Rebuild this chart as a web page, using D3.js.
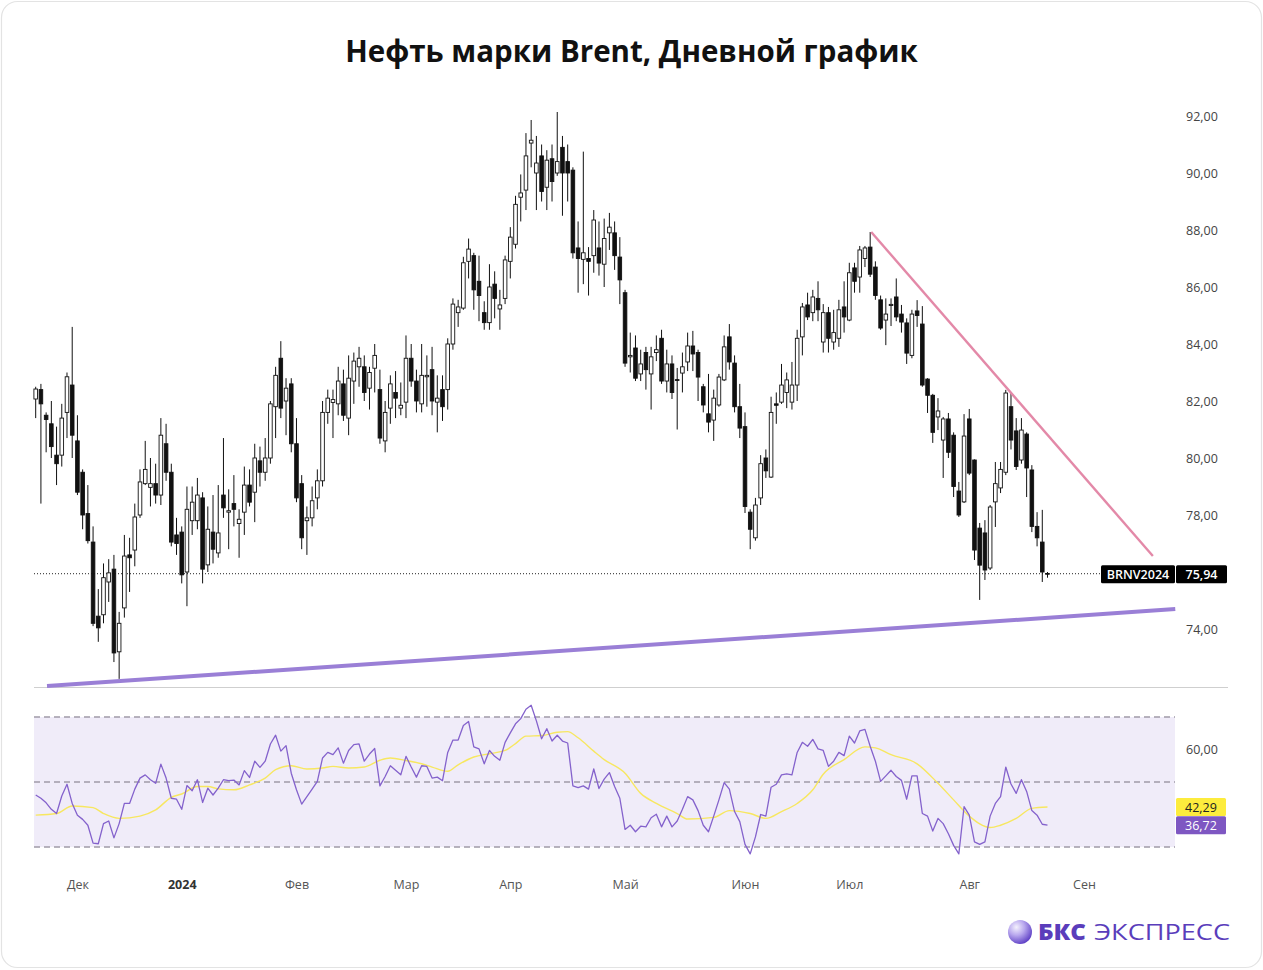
<!DOCTYPE html>
<html><head><meta charset="utf-8">
<script src="https://cdn.jsdelivr.net/npm/d3@7"></script>
<style>
html,body{margin:0;padding:0;background:#fff;}
svg{display:block;font-family:"Open Sans","Noto Sans",sans-serif;}
</style>
</head><body>
<svg id="chart" width="1263" height="970"></svg>
<script>
// ---------- DATA ----------
const ticker = "BRNV2024";
const lastPrice = 75.94;
const rsiLast = 36.72;
const maLast = 42.29;

const open = [82.07,82.4,81.5,81.2,80.1,80.1,81.6,82.56,80.6,79.5,
78.05,77.05,74.45,74.5,75.65,76.1,73.2,74.74,76.6,76.77,
78.0,79.1,78.97,79.1,78.7,80.5,79.5,77.3,77.4,76.0,
77.8,77.8,78.6,76.25,77.4,76.67,78.7,78.1,78.4,77.7,
78.1,79.05,78.8,79.9,79.5,80.0,81.8,83.5,82.0,82.6,
80.5,79.1,77.8,77.9,78.6,79.2,81.6,81.95,81.9,82.6,
81.4,82.7,83.2,83.2,82.45,83.15,82.4,80.6,81.75,82.3,
81.75,81.96,83.5,82.7,81.9,82.85,83.1,81.96,82.4,82.4,
84.0,85.1,85.26,86.9,87.1,86.2,85.1,84.75,86.1,85.23,
85.6,86.9,87.5,89.15,89.4,91.05,90.0,90.6,89.5,90.5,
90.0,90.9,90.4,90.1,87.37,86.97,87.0,87.1,87.37,86.8,
87.9,87.9,87.05,85.8,83.55,83.86,82.95,83.7,82.95,83.7,
84.2,82.7,83.3,82.75,82.98,83.37,83.93,83.7,82.5,81.55,
81.33,81.86,82.74,84.25,83.33,81.8,81.1,78.1,77.2,78.6,
80.0,79.33,81.9,81.96,82.3,81.96,82.56,84.25,85.37,85.1,
85.6,84.07,85.1,84.07,84.2,85.3,84.84,86.67,86.35,87.0,
87.4,86.7,85.55,84.84,85.35,85.65,85.05,84.74,83.6,85.16,
84.7,82.77,82.2,81.44,80.63,81.37,80.8,78.84,78.46,81.37,
79.93,77.54,77.37,76.14,78.46,78.95,79.5,81.8,80.95,79.93,
80.84,79.58,77.6,77.05,75.95];

const high = [82.5,82.6,81.6,82.0,81.1,81.9,83.0,84.6,81.5,79.6,
79.05,77.6,75.4,76.3,76.45,76.6,74.6,77.3,77.2,78.4,
79.6,80.6,80.0,79.8,81.4,81.2,79.8,77.9,77.6,79.0,
79.0,79.3,78.8,78.3,78.7,79.05,80.7,78.9,79.4,78.2,
79.7,79.6,80.5,80.4,80.7,82.0,83.2,84.1,82.8,82.8,
81.4,79.4,78.3,79.0,79.6,82.0,82.4,82.4,83.2,83.1,
83.6,83.7,83.9,83.6,83.2,84.0,83.1,82.0,82.9,83.05,
82.65,84.3,84.0,83.1,84.0,83.6,83.9,82.9,82.9,84.2,
85.6,85.55,87.06,87.7,87.2,87.1,85.5,86.8,86.55,85.9,
87.1,88.1,89.2,89.95,91.4,91.86,91.3,91.0,90.8,91.0,
92.14,91.3,91.0,90.2,88.3,90.75,87.4,88.7,88.3,88.4,
88.6,88.3,87.75,85.9,84.4,84.3,83.8,83.9,83.9,84.3,
84.5,83.8,83.6,83.16,83.7,84.4,84.46,83.8,82.6,82.95,
82.4,82.95,84.3,84.7,83.6,82.6,81.6,78.2,78.6,80.1,
80.3,82.15,82.3,83.3,83.0,83.37,84.5,85.44,85.8,85.9,
86.2,85.4,85.3,85.2,85.55,86.2,86.85,86.85,87.44,87.44,
87.93,86.9,85.7,85.6,85.6,86.3,85.37,84.9,85.2,85.54,
85.33,82.8,82.25,82.1,81.44,81.58,80.9,79.16,81.54,81.72,
79.95,77.72,77.82,78.35,79.86,79.86,82.39,82.28,81.4,81.4,
80.9,79.75,78.1,78.18,76.0];

const low = [81.4,78.4,80.2,80.0,79.05,79.7,80.7,80.0,78.7,77.5,
77.0,74.1,73.55,74.2,74.95,72.84,72.25,74.4,75.3,76.2,
77.9,79.05,78.3,78.4,78.35,79.2,76.9,76.6,75.6,74.8,
77.3,77.5,75.6,76.0,76.3,76.5,77.9,76.8,77.6,76.5,
77.3,78.3,77.75,79.0,79.2,79.8,80.7,81.4,80.8,80.2,
78.45,76.8,76.6,77.6,78.2,79.0,81.2,80.7,81.5,81.3,
80.8,81.9,82.5,82.0,81.7,82.3,80.5,80.2,81.2,81.4,
81.5,81.4,82.5,81.6,81.6,81.8,81.5,80.9,81.3,81.7,
83.8,84.6,85.2,86.3,85.2,84.8,84.5,84.5,84.9,84.5,
85.4,86.3,87.35,88.3,88.7,90.2,88.7,89.0,88.7,89.0,
89.9,88.5,89.0,87.0,85.8,86.1,85.7,86.5,86.4,86.0,
87.3,86.6,85.4,83.2,83.0,82.7,82.7,82.4,81.7,83.4,
82.6,82.3,82.07,81.0,82.3,83.05,83.05,82.0,81.6,80.9,
80.6,81.8,82.7,83.1,81.6,80.7,78.07,76.8,77.1,78.35,
79.3,79.3,81.2,81.9,81.75,81.7,82.0,83.6,84.84,84.8,
84.8,83.7,83.7,83.8,83.9,84.4,84.8,85.8,85.8,86.7,
86.35,85.55,84.5,83.96,84.63,84.8,84.4,83.3,83.5,84.6,
82.5,81.58,80.53,80.98,79.3,80.0,78.63,77.93,78.42,79.4,
76.42,75.02,75.72,76.07,77.58,78.77,79.4,80.3,79.58,79.8,
78.63,77.4,76.9,75.65,75.8];

const close = [82.42,81.9,81.35,80.4,79.8,81.4,82.85,80.8,78.8,78.0,
77.1,74.2,74.04,75.8,75.97,73.16,74.2,76.56,76.5,77.93,
79.16,79.6,79.1,78.7,80.8,79.5,77.05,77.0,75.9,78.2,
78.45,78.7,76.1,77.5,76.8,77.37,78.25,78.15,78.2,77.85,
79.05,78.45,80.0,79.5,80.0,81.9,82.9,81.75,82.45,80.5,
78.6,77.2,77.9,78.5,79.2,81.6,82.1,82.05,82.7,81.5,
82.8,83.4,83.5,82.3,83.0,83.6,80.7,81.6,82.6,82.1,
81.85,83.5,82.7,82.0,82.9,82.9,82.0,82.1,81.8,84.0,
85.4,85.3,86.85,87.33,85.9,85.7,84.75,86.0,85.6,85.37,
86.95,87.75,88.9,89.3,90.6,91.15,90.35,89.35,90.45,89.7,
90.4,90.0,90.0,87.2,87.0,87.2,86.9,88.35,86.84,87.7,
88.1,87.1,86.25,83.33,83.6,82.8,83.3,83.1,83.55,83.8,
82.7,83.3,82.3,82.74,83.2,83.93,83.65,82.84,81.86,81.26,
82.1,82.84,83.9,83.37,81.8,81.05,78.3,77.5,78.35,79.8,
79.55,81.6,81.85,82.56,82.74,82.56,84.2,85.3,84.95,85.65,
85.2,85.1,84.2,84.4,85.2,84.95,86.5,86.2,87.3,87.37,
86.45,85.7,84.56,85.05,85.39,84.95,84.77,83.68,85.05,85.0,
82.56,82.2,80.9,81.65,81.37,80.2,79.0,78.0,80.77,79.47,
76.77,76.24,76.07,78.28,79.1,79.6,82.28,80.63,79.7,80.98,
79.65,77.6,77.2,76.0,75.94];

const rsi = [46.0,45.0,43.6,41.6,40.3,45.7,49.3,43.4,39.8,38.5,
36.7,31.2,31.0,37.2,38.0,32.8,37.2,43.4,43.4,47.8,
51.2,52.2,50.7,49.6,55.5,51.2,45.0,44.7,41.6,48.9,
47.3,50.7,43.7,48.1,46.0,48.1,50.7,50.4,50.6,49.1,
53.5,51.4,56.4,54.5,56.4,61.7,64.4,59.5,61.2,52.7,
47.6,43.2,45.5,47.8,50.2,57.4,59.1,58.4,60.5,55.8,
59.7,61.5,61.7,56.4,58.6,60.3,48.8,51.7,55.0,53.6,
52.2,57.9,54.6,51.5,55.0,54.8,51.2,51.5,50.4,59.1,
62.9,62.9,67.4,68.6,60.8,60.2,55.6,59.7,57.9,56.7,
62.2,65.1,67.9,69.5,72.4,73.6,68.8,63.3,66.4,62.6,
64.4,62.6,62.0,48.8,48.3,48.8,47.8,54.0,48.0,50.9,
52.9,48.6,45.0,35.4,36.7,34.7,36.4,36.2,39.0,40.1,
36.2,39.5,36.2,38.0,41.6,45.5,44.5,41.2,36.7,34.7,
39.5,44.5,49.8,47.8,40.9,37.8,30.8,27.9,33.1,40.0,
39.5,48.4,49.3,52.2,52.5,52.2,59.1,62.2,61.0,63.1,
60.2,59.7,54.8,56.4,59.1,58.1,64.1,62.0,65.7,66.2,
61.0,56.4,50.2,51.9,53.6,51.7,50.5,44.7,51.9,51.9,
40.3,39.5,34.9,38.8,37.2,34.1,30.5,27.9,42.4,39.8,
31.6,30.8,31.6,39.5,43.4,45.5,54.6,49.4,46.5,50.7,
47.1,41.2,39.8,37.0,36.72];

// RSI moving average, read at these candle positions
const maIndex = [0,4,7,11,13,16,20,23,26,28,31,33,35,38,41,44,46,49,52,55,
57,60,63,66,68,71,74,76,79,81,84,87,90,92,94,97,100,102,104,107,
109,113,116,119,123,125,130,133,137,140,143,146,149,151,155,159,161,164,169,173,
176,179,183,185,188,191,194];
const maValue = [39.8,40.3,42.6,42.1,40.3,38.8,39.5,41.4,45.3,46.3,48.6,48.6,47.9,47.6,49.1,51.2,53.8,55.0,54.0,54.3,
54.8,54.3,54.6,56.7,57.4,56.6,55.6,54.6,53.3,55.3,57.7,58.7,59.7,61.8,64.1,64.3,65.3,65.5,63.6,59.5,
56.9,52.7,46.5,43.4,40.3,38.6,39.1,41.2,40.3,38.8,40.9,43.4,47.6,52.4,56.9,60.8,60.5,58.4,55.6,49.6,
44.5,39.5,36.0,36.7,38.8,41.9,42.29];

// Axis ticks
const priceTicks = [74,76,78,80,82,84,86,88,90,92];
const rsiTicks = [60];
const rsiLevels = [70,50,30];
const monthIndex = [8,28,50,71,91,113,136,156,179,201];
const monthLabels = ["Дек","2024","Фев","Мар","Апр","Май","Июн","Июл","Авг","Сен"];

// Trend lines: [candle position, price]
const resistanceLine = [[160.2,87.93],[214.2,76.56]];
const supportLine = [[2.17,72.0],[218.5,74.70]];

// ---------- DRAWING ----------
const svg = d3.select("#chart");
const fmt = d => d.toFixed(2).replace(".", ",");

// card
svg.append("rect").attr("x",1.5).attr("y",1.5).attr("width",1260).attr("height",966)
  .attr("rx",16).attr("fill","#fff").attr("stroke","#e3e3e3").attr("stroke-width",1.2);

// title
svg.append("text").attr("x",631.5).attr("y",62).attr("text-anchor","middle")
  .attr("font-size",29.5).attr("font-weight",700).attr("fill","#111")
  .text("Нефть марки Brent, Дневной график");

const n = close.length;
const x = d3.scaleLinear().domain([0, n-1]).range([35.7, 1047.5]);
const y = d3.scaleLinear().domain([74, 92]).range([629, 116]);
const yr = d3.scaleLinear().domain([30, 70]).range([847, 717]);

// price pane bottom separator
svg.append("line").attr("x1",34).attr("x2",1228).attr("y1",687.5).attr("y2",687.5)
  .attr("stroke","#cfcfcf").attr("stroke-width",1);

// last price dotted line
svg.append("line").attr("x1",34).attr("x2",1101).attr("y1",y(lastPrice)).attr("y2",y(lastPrice))
  .attr("stroke","#222").attr("stroke-width",1).attr("stroke-dasharray","1,2");

// support trend line
svg.append("line")
  .attr("x1",x(supportLine[0][0])).attr("y1",y(supportLine[0][1]))
  .attr("x2",x(supportLine[1][0])).attr("y2",y(supportLine[1][1]))
  .attr("stroke","#9a7fd6").attr("stroke-width",4).attr("stroke-linecap","butt");

// candles
const idx = d3.range(n);
const bw = 3.6;
const cg = svg.append("g");
cg.selectAll("line.w").data(idx).join("line").attr("class","w")
  .attr("x1",i=>x(i)).attr("x2",i=>x(i))
  .attr("y1",i=>y(high[i])).attr("y2",i=>y(low[i]))
  .attr("stroke","#111").attr("stroke-width",1);
cg.selectAll("rect.b").data(idx).join("rect").attr("class","b")
  .attr("x",i=>x(i)-bw/2).attr("width",bw)
  .attr("y",i=>y(Math.max(open[i],close[i])))
  .attr("height",i=>Math.max(0.8, Math.abs(y(open[i])-y(close[i]))))
  .attr("fill",i=>close[i]>=open[i]?"#fff":"#111")
  .attr("stroke","#111").attr("stroke-width",0.9);

// resistance trend line
svg.append("line")
  .attr("x1",x(resistanceLine[0][0])).attr("y1",y(resistanceLine[0][1]))
  .attr("x2",x(resistanceLine[1][0])).attr("y2",y(resistanceLine[1][1]))
  .attr("stroke","#e389a8").attr("stroke-width",2.4);

// price axis
const pAxis = svg.append("g").attr("transform","translate(1186,0)")
  .call(d3.axisRight(y).tickValues(priceTicks).tickFormat(fmt).tickSize(0).tickPadding(0));
pAxis.select(".domain").remove();
pAxis.selectAll("text").attr("font-size",12.5).attr("fill","#444").attr("font-family","'Open Sans',sans-serif");

// last price label
const ly = y(lastPrice);
svg.append("rect").attr("x",1101).attr("y",ly-8.5).attr("width",74).attr("height",18).attr("rx",1.5).attr("fill","#000");
svg.append("rect").attr("x",1176).attr("y",ly-8.5).attr("width",51).attr("height",18).attr("rx",1.5).attr("fill","#000");
svg.append("text").attr("x",1138).attr("y",ly+5).attr("text-anchor","middle").attr("fill","#fff")
  .attr("font-size",12.5).attr("font-weight",600).text(ticker);
svg.append("text").attr("x",1201.5).attr("y",ly+5).attr("text-anchor","middle").attr("fill","#fff")
  .attr("font-size",12.5).attr("font-weight",600).text(fmt(lastPrice));

// RSI pane
svg.append("rect").attr("x",34).attr("y",yr(70)).attr("width",1141).attr("height",yr(30)-yr(70))
  .attr("fill","#f0ecf9");
svg.selectAll("line.lvl").data(rsiLevels).join("line").attr("class","lvl")
  .attr("x1",34).attr("x2",1175).attr("y1",d=>yr(d)).attr("y2",d=>yr(d))
  .attr("stroke","#a09aa8").attr("stroke-width",1.3).attr("stroke-dasharray","6,4");

const maLine = d3.line().x(d=>x(d[0])).y(d=>yr(d[1])).curve(d3.curveMonotoneX);
svg.append("path").datum(maIndex.map((k,j)=>[k,maValue[j]]))
  .attr("d",maLine).attr("fill","none").attr("stroke","#f7e760").attr("stroke-width",1.4);

const rsiLine = d3.line().x((d,i)=>x(i)).y(d=>yr(d));
svg.append("path").datum(rsi).attr("d",rsiLine).attr("fill","none")
  .attr("stroke","#8462cc").attr("stroke-width",1.3).attr("stroke-linejoin","round");

// RSI axis
const rAxis = svg.append("g").attr("transform","translate(1186,0)")
  .call(d3.axisRight(yr).tickValues(rsiTicks).tickFormat(fmt).tickSize(0).tickPadding(0));
rAxis.select(".domain").remove();
rAxis.selectAll("text").attr("font-size",12.5).attr("fill","#444").attr("font-family","'Open Sans',sans-serif");

// RSI value labels
svg.append("rect").attr("x",1176).attr("y",yr(maLast)-9).attr("width",50).attr("height",18).attr("rx",1.5).attr("fill","#fdec3d");
svg.append("text").attr("x",1201).attr("y",yr(maLast)+4.5).attr("text-anchor","middle").attr("fill","#222")
  .attr("font-size",12.5).text(fmt(maLast));
svg.append("rect").attr("x",1176).attr("y",yr(rsiLast)-9).attr("width",50).attr("height",18).attr("rx",1.5).attr("fill","#7e57c2");
svg.append("text").attr("x",1201).attr("y",yr(rsiLast)+4.5).attr("text-anchor","middle").attr("fill","#fff")
  .attr("font-size",12.5).text(fmt(rsiLast));

// time axis
const tAxis = svg.append("g").attr("transform","translate(0,880)")
  .call(d3.axisBottom(x).tickValues(monthIndex).tickFormat((d,i)=>monthLabels[i]).tickSize(0).tickPadding(0));
tAxis.select(".domain").remove();
tAxis.selectAll("text").attr("font-size",12.5).attr("dy","0.71em")
  .attr("font-family","'Open Sans',sans-serif")
  .attr("font-weight",(d,i)=>monthLabels[i]==="2024"?700:400)
  .attr("fill",(d,i)=>monthLabels[i]==="2024"?"#333":"#555");

// logo
const defs = svg.append("defs");
const grad = defs.append("radialGradient").attr("id","lg").attr("cx","35%").attr("cy","30%").attr("r","75%");
grad.append("stop").attr("offset","0%").attr("stop-color","#f4f1fd");
grad.append("stop").attr("offset","45%").attr("stop-color","#b9a8ee");
grad.append("stop").attr("offset","100%").attr("stop-color","#5b3cc4");
svg.append("circle").attr("cx",1020).attr("cy",932).attr("r",12).attr("fill","url(#lg)");
svg.append("text").attr("x",1038).attr("y",940).attr("font-size",22).attr("font-weight",800)
  .attr("fill","#5a3dbb").attr("textLength",48).attr("lengthAdjust","spacingAndGlyphs").text("БКС");
svg.append("text").attr("x",1094).attr("y",940).attr("font-size",22).attr("font-weight",400)
  .attr("fill","#5a3dbb").attr("textLength",136).attr("lengthAdjust","spacingAndGlyphs").text("ЭКСПРЕСС");
</script>
</body></html>
